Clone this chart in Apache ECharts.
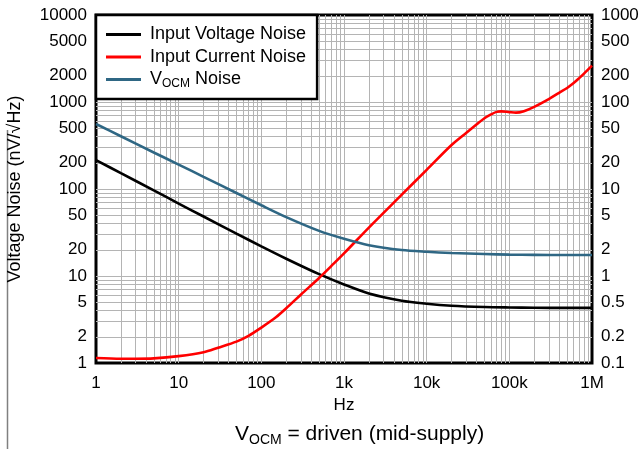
<!DOCTYPE html>
<html>
<head>
<meta charset="utf-8">
<script src="https://cdn.jsdelivr.net/npm/echarts@6/dist/echarts.min.js"></script>
<style>
html,body{margin:0;padding:0;background:#fff;}
#chart{width:639px;height:449px;}
</style>
</head>
<body>
<div id="chart"></div>
<script>
// ---- data ----
const freqV = [1,2,5,10,20,50,100,200,500,1e3,2e3,5e3,1e4,2e4,5e4,1e5,2e5,5e5,1e6];
const voltageNoise = [215,152,96.5,68,48.3,30.7,21.9,15.8,10.5,8.0,6.3,5.2,4.8,4.55,4.4,4.35,4.32,4.3,4.3];
const vocmNoise = [559,404,263,191,138,90,65,47.5,33,26.8,22.6,19.9,19.0,18.4,17.9,17.6,17.5,17.4,17.4];

const freqI = [1,2,3,5,10,20,30,50,70,100,150,200,300,500,700,1e3,2e3,5e3,1e4,2e4,3e4,4e4,5e4,6e4,7e4,8e4,1e5,1.2e5,1.5e5,2e5,3e5,4e5,5e5,6e5,7e5,8e5,1e6];
const currentNoise = [0.114,0.112,0.112,0.113,0.12,0.133,0.15,0.176,0.205,0.255,0.335,0.425,0.61,0.95,1.3,1.82,3.6,8.6,16.6,32,44,55,65,72,77,78,76.5,75.5,78.5,88,108,127.6,145,165,188,212,262];

const xTickValues = [1,10,100,1e3,1e4,1e5,1e6];
const xTickLabels = ['1','10','100','1k','10k','100k','1M'];
const leftTickValues = [1,2,5,10,20,50,100,200,500,1000,2000,5000,10000];
const rightTickValues = [0.1,0.2,0.5,1,2,5,10,20,50,100,200,500,1000];

const seriesNames = ['Input Voltage Noise','Input Current Noise','VOCM Noise'];

// ---- gridline positions (1..9 per decade, inside the frame) ----
const gridLines = [];
for (let e = 0; e < 6; e++) {
  for (let k = 1; k <= 9; k++) {
    const v = k * Math.pow(10, e);
    if (v > 1 && v < 1e6) gridLines.push({xAxis: v});
  }
}
for (let e = 0; e < 4; e++) {
  for (let k = 1; k <= 9; k++) {
    const v = k * Math.pow(10, e);
    if (v > 1 && v < 1e4) gridLines.push({yAxis: v});
  }
}

const FONT = 'Arial, "Liberation Sans", sans-serif';
const pair = (xs, ys) => xs.map((x, i) => [x, ys[i]]);
const numFmt = v => String(+Number(v).toPrecision(6));

const chart = echarts.init(document.getElementById('chart'), null, {renderer: 'canvas'});
chart.setOption({
  animation: false,
  backgroundColor: '#fff',
  textStyle: {fontFamily: FONT, color: '#000'},
  title: {
    text: '{n|V}{s|OCM}{n| = driven (mid-supply)}',
    left: 230, top: 416, padding: 5,
    textStyle: {
      fontFamily: FONT, fontWeight: 'normal', color: '#000',
      rich: {
        n: {fontSize: 21, lineHeight: 26, verticalAlign: 'middle', fontFamily: FONT, color: '#000'},
        s: {fontSize: 14, lineHeight: 14, verticalAlign: 'bottom', fontFamily: FONT, color: '#000'}
      }
    }
  },
  legend: {
    data: seriesNames,
    orient: 'vertical',
    left: 96, top: 15, z: 10,
    padding: [9, 11, 9, 10],
    itemGap: 1.5,
    icon: 'rect',
    itemWidth: 35, itemHeight: 3,
    backgroundColor: '#fff',
    borderColor: '#000', borderWidth: 2.5, borderRadius: 0,
    formatter: name => name === 'VOCM Noise' ? '{n|V}{s|OCM}{n| Noise}' : '{n|' + name + '}',
    textStyle: {
      fontFamily: FONT, color: '#000', fontSize: 18, lineHeight: 21, padding: [0,0,0,4],
      rich: {
        n: {fontSize: 18, lineHeight: 21, verticalAlign: 'middle', fontFamily: FONT, color: '#000'},
        s: {fontSize: 12, lineHeight: 12, verticalAlign: 'bottom', fontFamily: FONT, color: '#000'}
      }
    }
  },
  grid: {
    left: 96, right: 47, top: 15, bottom: 86,
    containLabel: false, outerBoundsMode: 'none',
    show: true, borderColor: '#000', borderWidth: 3, backgroundColor: 'transparent'
  },
  xAxis: {
    type: 'log', min: 1, max: 1e6, logBase: 10,
    name: 'Hz', nameLocation: 'middle', nameGap: 32,
    nameTextStyle: {fontSize: 17, fontFamily: FONT, color: '#000'},
    axisLine: {show: false},
    axisTick: {show: false},
    splitLine: {show: false},
    axisLabel: {
      customValues: xTickValues,
      fontSize: 17, fontFamily: FONT, color: '#000', margin: 12,
      formatter: v => {
        let best = 0;
        for (let i = 0; i < xTickValues.length; i++) {
          if (Math.abs(Math.log10(v) - Math.log10(xTickValues[i])) < Math.abs(Math.log10(v) - Math.log10(xTickValues[best]))) best = i;
        }
        return xTickLabels[best];
      }
    }
  },
  yAxis: [
    {
      type: 'log', min: 1, max: 10000, logBase: 10, position: 'left',
      name: 'Voltage Noise (nV/√Hz)', nameLocation: 'middle', nameGap: 72,
      nameTextStyle: {fontSize: 18, fontFamily: FONT, color: '#000'},
      axisLine: {show: false}, axisTick: {show: false}, splitLine: {show: false},
      axisLabel: {customValues: leftTickValues, fontSize: 17, fontFamily: FONT, color: '#000', margin: 9, formatter: numFmt}
    },
    {
      type: 'log', min: 0.1, max: 1000, logBase: 10, position: 'right',
      axisLine: {show: false}, axisTick: {show: false}, splitLine: {show: false},
      axisLabel: {customValues: rightTickValues, fontSize: 17, fontFamily: FONT, color: '#000', margin: 9, formatter: numFmt}
    }
  ],
  graphic: [{
    type: 'line', silent: true,
    shape: {x1: 7.5, y1: 130, x2: 7.5, y2: 449},
    style: {stroke: '#808080', lineWidth: 1.5}
  }],
  series: [
    {
      name: '__grid', type: 'line', data: [], z: 1, silent: true,
      xAxisIndex: 0, yAxisIndex: 0,
      markLine: {
        z: 1,
        silent: true, symbol: ['none', 'none'], animation: false,
        label: {show: false},
        lineStyle: {type: 'solid', color: '#b4b4b4', width: 1},
        emphasis: {disabled: true},
        data: gridLines
      }
    },
    {
      name: seriesNames[0], type: 'line', xAxisIndex: 0, yAxisIndex: 0, z: 3,
      data: pair(freqV, voltageNoise), smooth: 0.3, symbol: 'none',
      lineStyle: {color: '#000', width: 2.6}, itemStyle: {color: '#000'}
    },
    {
      name: seriesNames[1], type: 'line', xAxisIndex: 0, yAxisIndex: 1, z: 3,
      data: pair(freqI, currentNoise), smooth: 0.3, symbol: 'none',
      lineStyle: {color: '#ff0000', width: 2.6}, itemStyle: {color: '#ff0000'}
    },
    {
      name: seriesNames[2], type: 'line', xAxisIndex: 0, yAxisIndex: 0, z: 3,
      data: pair(freqV, vocmNoise), smooth: 0.3, symbol: 'none',
      lineStyle: {color: '#2f6784', width: 2.6}, itemStyle: {color: '#2f6784'}
    }
  ]
});
</script>
</body>
</html>
